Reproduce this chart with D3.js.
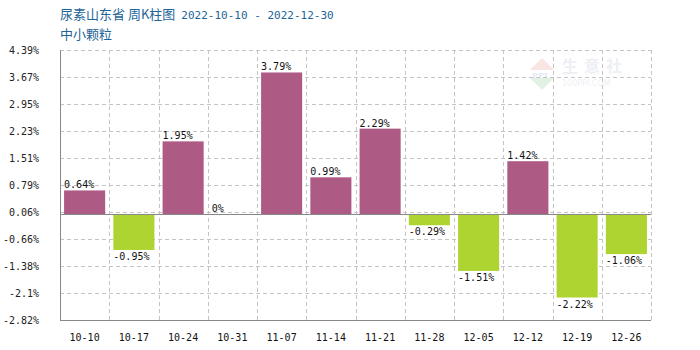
<!DOCTYPE html>
<html>
<head>
<meta charset="utf-8">
<script src="https://cdn.jsdelivr.net/npm/d3@7/dist/d3.min.js"></script>
<style>
  html, body { margin: 0; padding: 0; background: #fff; }
  svg { display: block; }
</style>
</head>
<body>
<svg id="chart" width="700" height="350"></svg>
<script>
// Weekly change, Shandong urea (small granule)
const categories = ["10-10", "10-17", "10-24", "10-31", "11-07", "11-14", "11-21", "11-28", "12-05", "12-12", "12-19", "12-26"];
const changes = [0.64, -0.95, 1.95, 0, 3.79, 0.99, 2.29, -0.29, -1.51, 1.42, -2.22, -1.06];
const yTickLabels = ["4.39%", "3.67%", "2.95%", "2.23%", "1.51%", "0.79%", "0.06%", "-0.66%", "-1.38%", "-2.1%", "-2.82%"];
const titleMain = "尿素山东省 周K柱图";
const titleDates = "2022-10-10 - 2022-12-30";
const subtitle = "中小颗粒";

(function () {
  const svg = d3.select("#chart");
  const plotL = 60, plotR = 651, plotT = 50, plotB = 320;
  const yMax = 4.39, yMin = -2.82;

  const x = d3.scaleBand().domain(categories).range([plotL, plotR]).paddingInner(0.166).paddingOuter(0.083);
  const y = d3.scaleLinear().domain([yMin, yMax]).range([plotB, plotT]);

  const mono = "'DejaVu Sans Mono', monospace";
  const upColor = "#ad5a84", downColor = "#aed431";

  // Title
  const title = svg.append("text").attr("x", 60).attr("y", 19).attr("fill", "#1e6496");
  title.append("tspan").attr("font-family", "'Noto Sans CJK SC', sans-serif").attr("font-size", 13).text(titleMain);
  title.append("tspan").attr("font-family", mono).attr("font-size", 11).attr("dx", 6).text(titleDates);
  svg.append("text").attr("x", 60).attr("y", 39).attr("fill", "#1e6496")
    .attr("font-family", "'Noto Sans CJK SC', sans-serif").attr("font-size", 13).text(subtitle);

  // Watermark
  const wm = svg.append("g").attr("opacity", 0.13);
  wm.append("path").attr("d", "M542,58 L554,70 L530,70 Z").attr("fill", "#d23c28");
  wm.append("path").attr("d", "M530,78 L554,78 L542,90 Z").attr("fill", "#2a9a3a");
  wm.append("text").attr("x", 532).attr("y", 78).attr("font-family", "'DejaVu Serif', serif").attr("font-size", 8).attr("font-weight", "bold").attr("fill", "#2a4aa0").text("PPI");
  wm.append("text").attr("x", 562).attr("y", 72).attr("font-family", "'Noto Sans CJK SC', sans-serif").attr("font-size", 16).attr("font-weight", "bold").attr("letter-spacing", 6).attr("fill", "#7a88b0").text("生意社");
  wm.append("text").attr("x", 562).attr("y", 86).attr("font-family", "'DejaVu Sans', sans-serif").attr("font-size", 8).attr("fill", "#7a88b0").text("100PPI.COM");

  // Horizontal grid and y labels
  const tickVals = d3.range(yTickLabels.length).map(i => yMax - i * (yMax - yMin) / (yTickLabels.length - 1));
  svg.append("g").selectAll("line").data(tickVals).join("line")
    .attr("x1", plotL).attr("x2", plotR)
    .attr("y1", d => Math.round(y(d)) + 0.5).attr("y2", d => Math.round(y(d)) + 0.5)
    .attr("stroke", "#c4c4c4").attr("stroke-dasharray", "4,3");
  svg.append("g").selectAll("text").data(tickVals).join("text")
    .attr("x", 39).attr("y", d => y(d) + 4).attr("text-anchor", "end")
    .attr("font-family", mono).attr("font-size", 10).attr("fill", "#222")
    .text((d, i) => yTickLabels[i]);

  // Vertical grid at category boundaries
  const bounds = categories.map((c, i) => plotL + (i + 1) * (plotR - plotL) / categories.length);
  svg.append("g").selectAll("line").data(bounds).join("line")
    .attr("x1", d => Math.round(d) + 0.5).attr("x2", d => Math.round(d) + 0.5)
    .attr("y1", plotT).attr("y2", plotB)
    .attr("stroke", "#c4c4c4").attr("stroke-dasharray", "4,3");

  // Bars
  const bw = x.bandwidth();
  svg.append("g").selectAll("rect").data(changes).join("rect")
    .attr("x", (d, i) => x(categories[i]))
    .attr("width", bw)
    .attr("y", d => d >= 0 ? y(d) : y(0))
    .attr("height", d => Math.abs(y(d) - y(0)))
    .attr("fill", d => d >= 0 ? upColor : downColor);

  // Zero line and axes
  svg.append("line").attr("x1", plotL).attr("x2", plotR).attr("y1", Math.round(y(0)) + 0.5).attr("y2", Math.round(y(0)) + 0.5).attr("stroke", "#888");
  svg.append("line").attr("x1", plotL + 0.5).attr("x2", plotL + 0.5).attr("y1", plotT).attr("y2", plotB).attr("stroke", "#888");
  svg.append("line").attr("x1", plotL).attr("x2", plotR).attr("y1", plotB + 0.5).attr("y2", plotB + 0.5).attr("stroke", "#888");

  // Value labels
  svg.append("g").selectAll("text").data(changes).join("text")
    .attr("x", (d, i) => x(categories[i]))
    .attr("y", d => d >= 0 ? y(d) - 2 : y(d) + 10)
    .attr("font-family", mono).attr("font-size", 10).attr("fill", "#111")
    .text(d => d + "%");

  // Category labels
  svg.append("g").selectAll("text").data(categories).join("text")
    .attr("x", d => x(d) + bw / 2).attr("y", 341).attr("text-anchor", "middle")
    .attr("font-family", mono).attr("font-size", 10).attr("fill", "#111")
    .text(d => d);
})();
</script>
</body>
</html>
